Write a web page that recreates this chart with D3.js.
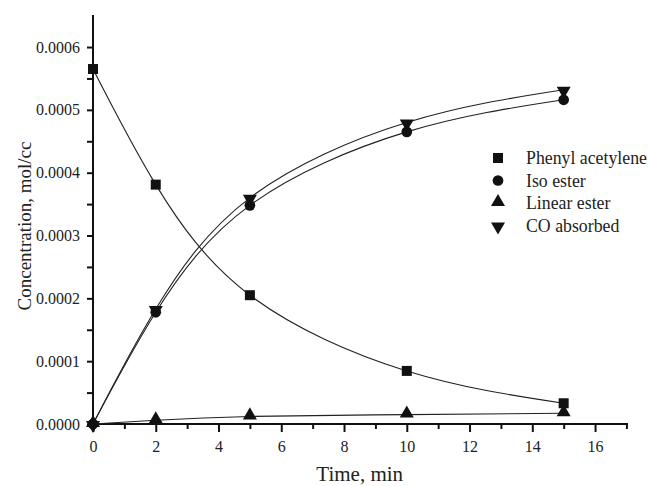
<!DOCTYPE html>
<html>
<head>
<meta charset="utf-8">
<script src="https://cdn.jsdelivr.net/npm/d3@7"></script>
<style>
  body { margin: 0; background: #fff; }
  svg { font-family: "Liberation Serif", "Times New Roman", serif; }
</style>
</head>
<body>
<div id="chart"></div>
<script>
// time points (min)
var times = [0, 2, 5, 10, 15];

// concentrations, mol/cc
var phenylAcetylene = [0.000565, 0.000381, 0.000205, 0.0000845, 0.000033];
var isoEster        = [0.0, 0.000178, 0.000348, 0.000465, 0.000516];
var linearEster     = [0.0, 0.000006, 0.000012, 0.000015, 0.000017];
var coAbsorbed      = [0.0, 0.000183, 0.000360, 0.000480, 0.000532];

var seriesNames = ["Phenyl acetylene", "Iso ester", "Linear ester", "CO absorbed"];
var seriesSymbols = ["square", "circle", "triangle", "triangleDown"];

var xTicks = [0, 2, 4, 6, 8, 10, 12, 14, 16];
var yTicks = [0, 0.0001, 0.0002, 0.0003, 0.0004, 0.0005, 0.0006];

var width = 648;
var height = 486;

var padding = {top: 15, right: 20, bottom: 62, left: 93};

var svg = d3.select("#chart")
	.append("svg")
	.attr("width", width)
	.attr("height", height);

var xScale = d3.scaleLinear()
	.domain([0, 17.05])
	.range([padding.left, width - padding.right]);

var yScale = d3.scaleLinear()
	.domain([0, 0.000651])
	.range([height - padding.bottom, padding.top]);

// axes
var xAxis = svg.append("g")
	.attr("transform", "translate(0," + yScale(0) + ")");
xAxis.call(d3.axisBottom(xScale).tickValues(d3.range(0, 18, 1)).tickSize(5).tickFormat(""));
xAxis.call(function(g) {
	g.selectAll(".tick").filter(function(d) { return d % 2 == 0; })
		.select("line").attr("y2", 8);
});
xAxis.selectAll("text").remove();
xAxis.select(".domain").attr("d", "M" + xScale.range()[0] + ",0H" + xScale.range()[1]);

var xLabels = svg.append("g")
	.attr("transform", "translate(0," + yScale(0) + ")")
	.call(d3.axisBottom(xScale).tickValues(xTicks).tickSize(0).tickPadding(17).tickFormat(d3.format("d")));
xLabels.select(".domain").remove();

var yAxis = svg.append("g")
	.attr("transform", "translate(" + xScale(0) + ",0)");
yAxis.call(d3.axisLeft(yScale).tickValues(d3.range(0, 0.00065, 0.00005)).tickSize(6).tickFormat(""));
yAxis.select(".domain").attr("d", "M0," + yScale.range()[0] + "V" + yScale.range()[1]);

var yLabels = svg.append("g")
	.attr("transform", "translate(" + xScale(0) + ",0)")
	.call(d3.axisLeft(yScale).tickValues(yTicks).tickSize(0).tickPadding(13).tickFormat(d3.format(".4f")));
yLabels.select(".domain").remove();

svg.selectAll(".domain").attr("stroke", "#111").attr("stroke-width", 2);
svg.selectAll(".tick line").attr("stroke", "#111").attr("stroke-width", 2);
svg.selectAll(".tick text").attr("fill", "#222").style("font-size", "16px")
	.style("font-family", "Liberation Serif, serif");

// axis titles
svg.append("text")
	.attr("x", xScale(8.5))
	.attr("y", 481)
	.style("text-anchor", "middle")
	.style("font-size", "21px")
	.attr("fill", "#222")
	.text("Time, min");

svg.append("text")
	.attr("transform", "translate(31,226) rotate(-90)")
	.style("text-anchor", "middle")
	.style("font-size", "19px")
	.attr("fill", "#222")
	.text("Concentration, mol/cc");

// curves
var allSeries = [phenylAcetylene, isoEster, linearEster, coAbsorbed];

var line = d3.line()
	.x(function(d, i) { return xScale(times[i]); })
	.y(function(d) { return yScale(d); })
	.curve(d3.curveNatural);

var plot = svg.append("g");

allSeries.forEach(function(s) {
	plot.append("path")
		.attr("fill", "none")
		.attr("stroke", "#222")
		.attr("stroke-width", 1.1)
		.attr("d", line(s));
});

var symbolTypes = {
	square: d3.symbol().type(d3.symbolSquare).size(100),
	circle: d3.symbol().type(d3.symbolCircle).size(90),
	triangle: d3.symbol().type(d3.symbolTriangle).size(85),
	triangleDown: d3.symbol().type(d3.symbolTriangle).size(85)
};

function symbolTransform(type, x, y) {
	if (type == "triangle") return "translate(" + x + "," + (y - 1) + ")";
	if (type == "triangleDown") return "translate(" + x + "," + (y + 1) + ") rotate(180)";
	return "translate(" + x + "," + y + ")";
}

allSeries.forEach(function(s, k) {
	var type = seriesSymbols[k];
	plot.selectAll(".pt" + k)
		.data(s)
		.enter()
		.append("path")
		.attr("class", "pt" + k)
		.attr("d", symbolTypes[type]())
		.attr("transform", function(d, i) { return symbolTransform(type, xScale(times[i]), yScale(d)); })
		.attr("fill", "#111");
});

// legend
var legend = svg.append("g");
seriesNames.forEach(function(name, k) {
	var ly = 158 + k * 22.5;
	legend.append("path")
		.attr("d", symbolTypes[seriesSymbols[k]]())
		.attr("transform", symbolTransform(seriesSymbols[k], 498, ly))
		.attr("fill", "#111");
	legend.append("text")
		.attr("x", 526)
		.attr("y", ly + 6)
		.style("font-size", "17.8px")
		.attr("fill", "#222")
		.text(name);
});
</script>
</body>
</html>
